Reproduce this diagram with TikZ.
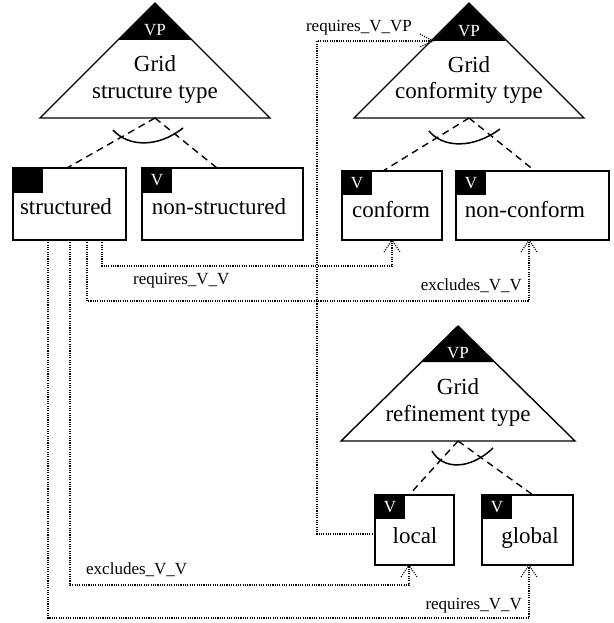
\documentclass[tikz,border=0pt]{standalone}
\usepackage{fontspec}
\setmainfont{Liberation Serif}
\usetikzlibrary{calc}
\tikzset{
  fbox/.style={draw, line width=1.5pt, inner sep=0pt, outer sep=0pt, anchor=north west},
  vtag/.style={fill=black, text=white, inner sep=0pt, outer sep=0pt, minimum width=30pt, minimum height=25pt, anchor=north west, font=\fontsize{17}{17}\selectfont},
  bigtxt/.style={inner sep=0pt, anchor=base, font=\fontsize{23}{23}\selectfont},
  lbl/.style={inner sep=0pt, font=\fontsize{17}{17}\selectfont},
  tri/.style={line width=1.4pt, line join=miter},
  alt/.style={dash pattern=on 7pt off 5pt, line width=1.4pt},
  conn/.style={line width=1.1pt, dash pattern=on 1.1pt off 1.2pt},
  arcline/.style={line width=1.5pt},
}
\newcommand\mytipup[1]{\draw[conn] ($(#1)+(-8,12)$) -- (#1) -- ($(#1)+(8,12)$);}
\begin{document}
\begin{tikzpicture}[x=1pt,y=-1pt]
\useasboundingbox[fill=white] (0,0) rectangle (613,623);

% ---------- Triangle 1: Grid structure type ----------
\coordinate (t1base) at (155,118);
\fill (155,3) -- (118,40) -- (192,40) -- cycle;
\draw[tri] (155,3) -- (40,118) -- (270,118) -- cycle;
\node[lbl, text=white, anchor=base] (t1vp) at (155,36) {VP};
\node[bigtxt] (t1a) at (155,72) {Grid};
\node[bigtxt] (t1b) at (155,99) {structure type};

% ---------- Triangle 2: Grid conformity type ----------
\coordinate (t2base) at (469,118);
\coordinate (t2cap) at (433,41);
\fill (469,3) -- (432,41) -- (506,41) -- cycle;
\draw[tri] (469,3) -- (354,118) -- (584,118) -- cycle;
\node[lbl, text=white, anchor=base] (t2vp) at (469,37) {VP};
\node[bigtxt] (t2a) at (469,73) {Grid};
\node[bigtxt] (t2b) at (469,99) {conformity type};

% ---------- Triangle 3: Grid refinement type ----------
\coordinate (t3base) at (458,441);
\fill (458,326) -- (422,362) -- (494,362) -- cycle;
\draw[tri] (458,326) -- (341,441) -- (575,441) -- cycle;
\node[lbl, text=white, anchor=base] (t3vp) at (458,358) {VP};
\node[bigtxt] (t3a) at (458,394) {Grid};
\node[bigtxt] (t3b) at (458,421) {refinement type};

% ---------- Boxes ----------
\node[fbox, minimum width=113pt, minimum height=72pt] (structured) at (13,168) {};
\node[vtag] (structuredtag) at (structured.north west) {};
\node[bigtxt] (structuredtxt) at (66,214) {structured};

\node[fbox, minimum width=161pt, minimum height=72pt] (nonstructured) at (142,168) {};
\node[vtag] (nonstructuredtag) at (nonstructured.north west) {V};
\node[bigtxt] (nonstructuredtxt) at (219,214) {non-structured};

\node[fbox, minimum width=100pt, minimum height=69pt] (conform) at (342,171) {};
\node[vtag, minimum height=24pt] (conformtag) at (conform.north west) {V};
\node[bigtxt] (conformtxt) at (391,217) {conform};

\node[fbox, minimum width=153pt, minimum height=69pt] (nonconform) at (456,171) {};
\node[vtag, minimum height=24pt] (nonconformtag) at (nonconform.north west) {V};
\node[bigtxt] (nonconformtxt) at (525,217) {non-conform};

\node[fbox, minimum width=79pt, minimum height=70pt] (local) at (375,495) {};
\node[vtag, minimum height=24pt] (localtag) at (local.north west) {V};
\node[bigtxt] (localtxt) at (415,543) {local};

\node[fbox, minimum width=91pt, minimum height=70pt] (global) at (482,495) {};
\node[vtag, minimum height=24pt] (globaltag) at (global.north west) {V};
\node[bigtxt] (globaltxt) at (530,543) {global};

% ---------- Alternative (dashed) links and arcs ----------
\draw[alt] (t1base) -- ($(structured.north west)+(54,0)$);
\draw[alt] (t1base) -- ($(nonstructured.north west)+(75,0)$);
\draw[arcline] (113,130) .. controls (128,147) and (158,148) .. (183,128);

\draw[alt] (t2base) -- ($(conform.north west)+(41,0)$);
\draw[alt] (t2base) -- ($(nonconform.north west)+(79,0)$);
\draw[arcline] (429,131) .. controls (443,148) and (473,149) .. (500,129);

\draw[alt] (t3base) -- ($(local.north west)+(34,0)$);
\draw[alt] (t3base) -- ($(global.north west)+(51,0)$);
\draw[arcline] (432,451) .. controls (443,470) and (470,470) .. (493,448);

% ---------- Cross-tree constraints (dotted) ----------
% structured -> conform : requires_V_V
\draw[conn] ($(structured.south west)+(89,0)$) -- ++(0,26) -| (conform.south);
\mytipup{conform.south}
\node[lbl, anchor=base west] (lreq1) at (133,284) {requires\_V\_V};

% structured -> non-conform : excludes_V_V
\draw[conn] ($(structured.south west)+(74,0)$) -- ++(0,61) -| ($(nonconform.south)+(-3.5,0)$);
\mytipup{$(nonconform.south)+(-3.5,0)$}
\node[lbl, anchor=base east] (lexc1) at (522,290) {excludes\_V\_V};

% structured -> local : excludes_V_V
\draw[conn] ($(structured.south west)+(57,0)$) -- ++(0,345) -| ($(local.south)+(-5.5,0)$);
\mytipup{$(local.south)+(-5.5,0)$}
\node[lbl, anchor=base west] (lexc2) at (86,574) {excludes\_V\_V};

% structured -> global : requires_V_V
\draw[conn] ($(structured.south west)+(35,0)$) -- ++(0,378) -| ($(global.south)+(1.5,0)$);
\mytipup{$(global.south)+(1.5,0)$}
\node[lbl, anchor=base east] (lreq2) at (522,609) {requires\_V\_V};

% local -> Grid conformity type : requires_V_VP
\draw[conn] ($(local.west)+(0,4)$) -- ++(-58,0) |- (t2cap);
\draw[conn] ($(t2cap)+(-13,-7)$) -- (t2cap) -- ($(t2cap)+(-13,6)$);
\node[lbl, anchor=base east] (lreqvp) at (412,32) {requires\_V\_VP};

\end{tikzpicture}
\end{document}
